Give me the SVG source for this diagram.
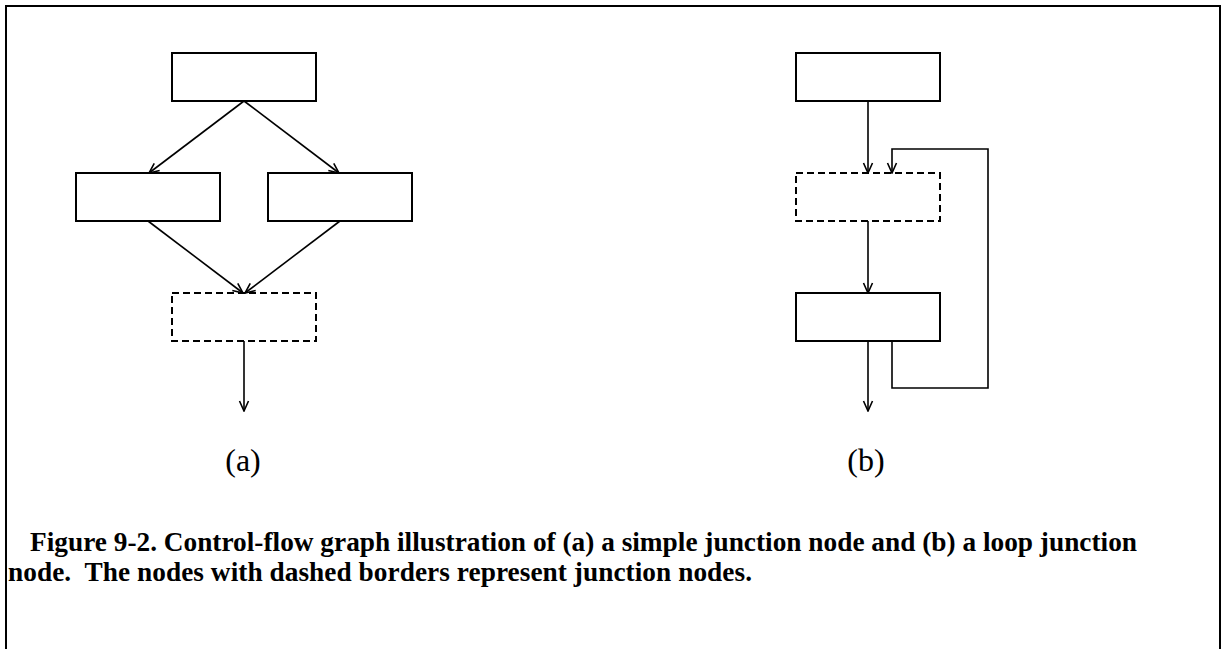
<svg xmlns="http://www.w3.org/2000/svg" width="1225" height="649" viewBox="0 0 1225 649">
  <style>
    .box { fill: #ffffff; stroke: #000000; stroke-width: 2; }
    .junction { fill: #ffffff; stroke: #000000; stroke-width: 2; stroke-dasharray: 7 4; }
    .edge { fill: none; stroke: #000000; stroke-width: 1.6; }
    .label { font-family: "Liberation Serif", "Times New Roman", serif; font-size: 32px; fill: #000000; }
    .caption { font-family: "Liberation Serif", "Times New Roman", serif; font-size: 27.3px; font-weight: bold; fill: #000000; }
  </style>
  <defs>
    <marker id="arrow" viewBox="0 0 12 12" refX="11" refY="6" markerWidth="12" markerHeight="12" markerUnits="userSpaceOnUse" orient="auto">
      <path d="M1,1.5 L11,6 L1,10.5" fill="none" stroke="#000000" stroke-width="1.6"/>
    </marker>
  </defs>

  <rect width="1225" height="649" fill="#ffffff"/>
  <!-- outer frame (bottom edge runs past the page) -->
  <path d="M6,660 L6,6 L1220,6 L1220,660" fill="none" stroke="#000000" stroke-width="2"/>

  <!-- (a) simple junction -->
  <g id="a-top"><rect class="box" x="172" y="53" width="144" height="48"/></g>
  <g id="a-left"><rect class="box" x="76" y="173" width="144" height="48"/></g>
  <g id="a-right"><rect class="box" x="268" y="173" width="144" height="48"/></g>
  <g id="a-junction"><rect class="junction" x="172" y="293" width="144" height="48"/></g>

  <!-- (b) loop junction -->
  <g id="b-top"><rect class="box" x="796" y="53" width="144" height="48"/></g>
  <g id="b-junction"><rect class="junction" x="796" y="173" width="144" height="48"/></g>
  <g id="b-body"><rect class="box" x="796" y="293" width="144" height="48"/></g>

  <g id="connectors">
    <line class="edge" x1="244" y1="101" x2="149" y2="173" marker-end="url(#arrow)"/>
    <line class="edge" x1="244" y1="101" x2="339" y2="173" marker-end="url(#arrow)"/>
    <line class="edge" x1="148" y1="221" x2="243" y2="293" marker-end="url(#arrow)"/>
    <line class="edge" x1="340" y1="221" x2="245" y2="293" marker-end="url(#arrow)"/>
    <line class="edge" x1="244" y1="341" x2="244" y2="411" marker-end="url(#arrow)"/>

    <line class="edge" x1="868" y1="101" x2="868" y2="173" marker-end="url(#arrow)"/>
    <line class="edge" x1="868" y1="221" x2="868" y2="293" marker-end="url(#arrow)"/>
    <line class="edge" x1="868" y1="341" x2="868" y2="411" marker-end="url(#arrow)"/>
    <path class="edge" d="M892,341 L892,388 L988,388 L988,149 L892,149 L892,173" marker-end="url(#arrow)"/>
  </g>

  <text class="label" x="243" y="471" text-anchor="middle">(a)</text>
  <text class="label" x="866" y="471" text-anchor="middle">(b)</text>

  <text class="caption" x="30" y="551" textLength="1107" lengthAdjust="spacing">Figure 9-2. Control-flow graph illustration of (a) a simple junction node and (b) a loop junction</text>
  <text class="caption" x="8" y="581" xml:space="preserve" textLength="744" lengthAdjust="spacing">node.  The nodes with dashed borders represent junction nodes.</text>
</svg>
